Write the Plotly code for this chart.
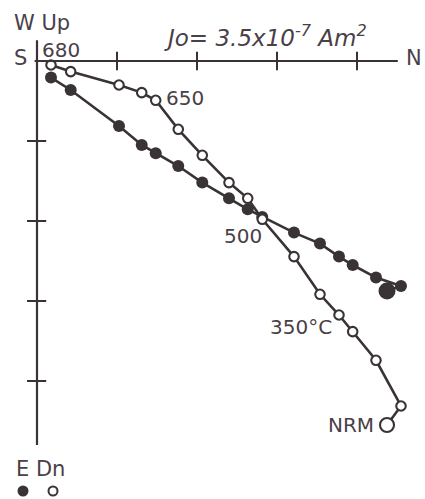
import plotly.graph_objects as go

# Demagnetisation steps (NRM first), components in units of the axis tick spacing
step_labels = ["NRM", "", "", "350°C", "", "", "", "500", "", "", "", "", "650", "", "", "", "680"]
north = [4.375, 4.55, 4.2375, 3.946, 3.775, 3.5375, 3.2125, 2.816, 2.634, 2.40,
         2.066, 1.766, 1.484, 1.309, 1.025, 0.421, 0.175]
east = [2.875, 2.8125, 2.7075, 2.55, 2.445, 2.2825, 2.145, 1.95, 1.854, 1.716,
        1.52, 1.3125, 1.154, 1.05, 0.8125, 0.3625, 0.2075]
down = [4.55, 4.3125, 3.741, 3.3825, 3.175, 2.916, 2.445, 1.979, 1.716, 1.52,
        1.179, 0.854, 0.491, 0.395, 0.30, 0.1325, 0.05]
axis_ticks = [1, 2, 3, 4]

INK = "#3a3336"
TXT = "#4a4048"
FONT = "DejaVu Sans"

W, H = 425, 499
X0, Y0, UNIT = 37, 61, 80  # pixel position of the origin and pixels per tick


def px(xp):
    return xp / W


def py(yp):
    return 1 - yp / H


fig = go.Figure()

# horizontal projection (filled): N vs E
fig.add_trace(go.Scatter(
    x=north, y=east, mode="lines+markers",
    line=dict(color=INK, width=2.6),
    marker=dict(symbol="circle", color=INK, opacity=1,
                size=[17] + [12] * (len(north) - 1),
                line=dict(color=INK, width=0)),
    hoverinfo="skip", showlegend=False))

# vertical projection (open): N vs Down
fig.add_trace(go.Scatter(
    x=north, y=down, mode="lines+markers",
    line=dict(color=INK, width=2.6),
    marker=dict(symbol="circle", color="white", opacity=1,
                size=[14] + [9.5] * (len(north) - 1),
                line=dict(color=INK, width=2.1)),
    hoverinfo="skip", showlegend=False))

shapes = []
# axes
shapes.append(dict(type="line", xref="x", yref="y", x0=-0.03, x1=4.51, y0=0, y1=0,
                   line=dict(color=INK, width=2.2)))
shapes.append(dict(type="line", xref="x", yref="y", x0=0, x1=0, y0=-0.26, y1=4.8,
                   line=dict(color=INK, width=2.2)))
for t in axis_ticks:
    shapes.append(dict(type="line", xref="x", yref="y", x0=t, x1=t, y0=-0.115, y1=0.115,
                       line=dict(color=INK, width=2)))
    shapes.append(dict(type="line", xref="x", yref="y", x0=-0.125, x1=0.115, y0=t, y1=t,
                       line=dict(color=INK, width=2)))

# key symbols under "E Dn"
shapes.append(dict(type="circle", xref="paper", yref="paper", xsizemode="pixel",
                   ysizemode="pixel", xanchor=px(23), yanchor=py(491),
                   x0=-5.5, x1=5.5, y0=-5.5, y1=5.5,
                   fillcolor=INK, line=dict(color=INK, width=0)))
shapes.append(dict(type="circle", xref="paper", yref="paper", xsizemode="pixel",
                   ysizemode="pixel", xanchor=px(53), yanchor=py(491),
                   x0=-4.5, x1=4.5, y0=-4.5, y1=4.5,
                   fillcolor="white", line=dict(color=INK, width=2)))

annotations = []
# step labels placed next to their open-circle points
label_style = {
    "NRM": dict(xanchor="right", xshift=-11, yshift=0),
    "350°C": dict(xanchor="right", xshift=-19, yshift=5),
    "500": dict(xanchor="right", xshift=2, yshift=-17),
    "650": dict(xanchor="left", xshift=8, yshift=2),
    "680": dict(xanchor="left", xshift=-11, yshift=15),
}
for lab, n, d in zip(step_labels, north, down):
    if not lab:
        continue
    st = label_style[lab]
    annotations.append(dict(x=n, y=d, xref="x", yref="y", text=lab, showarrow=False,
                            xanchor=st["xanchor"], yanchor="middle",
                            xshift=st["xshift"], yshift=st["yshift"],
                            font=dict(family=FONT, size=20, color=TXT)))


# axis direction labels and intensity
def paper_text(text, xp, yp, xanchor="center", size=21, italic=False):
    annotations.append(dict(x=px(xp), y=py(yp), xref="paper", yref="paper", text=text,
                            showarrow=False, xanchor=xanchor, yanchor="middle",
                            font=dict(family=FONT, size=size, color=TXT,
                                      style="italic" if italic else "normal")))


paper_text("W Up", 12, 23, xanchor="left")
paper_text("S", 20.5, 58)
paper_text("N", 414, 58)
paper_text("E Dn", 14, 469, xanchor="left")
paper_text("Jo= 3.5x10<sup>-7</sup> Am<sup>2</sup>", 265, 36, size=23, italic=True)

fig.update_layout(
    width=W, height=H,
    margin=dict(l=0, r=0, t=0, b=0),
    paper_bgcolor="white", plot_bgcolor="white",
    xaxis=dict(range=[-X0 / UNIT, (W - X0) / UNIT], visible=False, fixedrange=True),
    yaxis=dict(range=[(H - Y0) / UNIT, -Y0 / UNIT], visible=False, fixedrange=True),
    shapes=shapes, annotations=annotations,
)

fig.write_html("out.html")
